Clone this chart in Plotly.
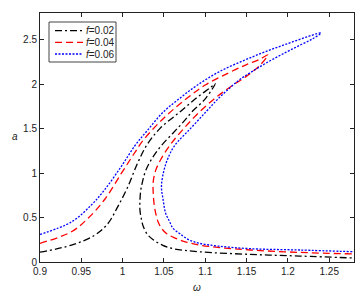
import plotly.graph_objects as go

# f = 0.02 (black, dash-dot)
w_f002 = [0.900, 0.938, 0.966, 0.982, 0.994, 1.006, 1.018, 1.029, 1.045, 1.069, 1.090, 1.106, 1.112,
          1.100, 1.085, 1.073, 1.060, 1.047, 1.036, 1.028, 1.024, 1.022, 1.021, 1.021, 1.023, 1.025,
          1.030, 1.037, 1.048, 1.061, 1.093, 1.154, 1.214, 1.280]
a_f002 = [0.11, 0.19, 0.30, 0.43, 0.62, 0.84, 1.11, 1.31, 1.50, 1.685, 1.85, 1.96, 2.005,
          1.835, 1.70, 1.57, 1.44, 1.31, 1.17, 1.03, 0.90, 0.81, 0.70, 0.58, 0.47, 0.40,
          0.31, 0.25, 0.19, 0.15, 0.115, 0.086, 0.067, 0.045]

# f = 0.04 (red, dashed)
w_f004 = [0.900, 0.938, 0.958, 0.978, 0.998, 1.014, 1.025, 1.050, 1.077, 1.100, 1.129, 1.150, 1.166, 1.176,
          1.166, 1.150, 1.129, 1.109, 1.089, 1.072, 1.057, 1.046, 1.040, 1.037, 1.037, 1.038, 1.040,
          1.043, 1.047, 1.053, 1.061, 1.075, 1.093, 1.120, 1.154, 1.214, 1.280]
a_f004 = [0.21, 0.34, 0.49, 0.70, 0.99, 1.22, 1.37, 1.62, 1.835, 1.99, 2.13, 2.22, 2.28, 2.33,
          2.21, 2.09, 1.96, 1.82, 1.65, 1.48, 1.31, 1.15, 1.03, 0.90, 0.78, 0.66, 0.55,
          0.45, 0.38, 0.32, 0.28, 0.23, 0.19, 0.16, 0.135, 0.108, 0.09]

# f = 0.06 (blue, dotted)
w_f006 = [0.900, 0.938, 0.962, 0.978, 0.998, 1.015, 1.030, 1.049, 1.069, 1.089, 1.117, 1.158, 1.198, 1.240,
          1.230, 1.215, 1.198, 1.178, 1.158, 1.143, 1.130, 1.115, 1.101, 1.082, 1.063, 1.055, 1.050,
          1.047, 1.049, 1.052, 1.056, 1.061, 1.069, 1.080, 1.093, 1.115, 1.154, 1.214, 1.280]
a_f006 = [0.31, 0.45, 0.64, 0.81, 1.07, 1.31, 1.48, 1.685, 1.84, 1.98, 2.14, 2.31, 2.45, 2.575,
          2.51, 2.44, 2.36, 2.26, 2.15, 2.06, 1.96, 1.83, 1.69, 1.50, 1.31, 1.17, 1.03,
          0.85, 0.70, 0.55, 0.47, 0.38, 0.32, 0.25, 0.21, 0.18, 0.15, 0.135, 0.115]

x_ticks = [0.9, 0.95, 1, 1.05, 1.1, 1.15, 1.2, 1.25]
x_labels = ["0.9", "0.95", "1", "1.05", "1.1", "1.15", "1.2", "1.25"]
y_ticks = [0, 0.5, 1, 1.5, 2, 2.5]
y_labels = ["0", "0.5", "1", "1.5", "2", "2.5"]
legend_labels = ["<i>f</i>=0.02", "<i>f</i>=0.04", "<i>f</i>=0.06"]

styles = [("black", "7px,3px,2px,3px"), ("red", "7px,4px"), ("blue", "2px,1.5px")]
data = [(w_f002, a_f002), (w_f004, a_f004), (w_f006, a_f006)]

FONT = "Liberation Sans, Arial, sans-serif"

fig = go.Figure()
for (w, a), (col, dash), name in zip(data, styles, legend_labels):
    fig.add_trace(go.Scatter(
        x=w, y=a, mode="lines", name=name, showlegend=False,
        line=dict(color=col, dash=dash, width=1.3, shape="spline", smoothing=1.0),
    ))

axis_common = dict(
    showline=True, linecolor="#222", linewidth=1, mirror="allticks",
    ticks="inside", ticklen=4, tickcolor="#222", showgrid=False, zeroline=False,
    automargin=False,
    tickfont=dict(family=FONT, size=10, color="#222"),
)

fig.update_layout(
    width=363, height=297,
    margin=dict(l=40, r=9, t=13, b=35),
    paper_bgcolor="white", plot_bgcolor="white",
    font=dict(family=FONT, size=10, color="#222"),
    xaxis=dict(range=[0.9, 1.28], tickvals=x_ticks, ticktext=x_labels, **axis_common),
    yaxis=dict(range=[0, 2.8], tickvals=y_ticks, ticktext=y_labels, **axis_common),
    showlegend=False,
)

def px2paper(px, py):
    return (px - 40) / 314, (262 - py) / 249

# axis titles
tx, ty = px2paper(197, 287)
fig.add_annotation(text="<i>ω</i>", xref="paper", yref="paper", x=tx, y=ty,
                   showarrow=False, font=dict(family=FONT, size=10, color="#222"),
                   xanchor="center", yanchor="middle")
tx, ty = px2paper(15, 136)
fig.add_annotation(text="<i>a</i>", xref="paper", yref="paper", x=tx, y=ty,
                   showarrow=False, font=dict(family=FONT, size=10, color="#222"),
                   xanchor="center", yanchor="middle")

# legend box (drawn manually to match compact layout)
bx0, by0 = px2paper(49, 62)
bx1, by1 = px2paper(116, 22)
fig.add_shape(type="rect", xref="paper", yref="paper", x0=bx0, y0=by0, x1=bx1, y1=by1,
              line=dict(color="#444", width=1), fillcolor="white", layer="above")
row_y = [30.7, 42.3, 54.0]
for (col, dash), label, ry in zip(styles, legend_labels, row_y):
    lx0, ly = px2paper(55, ry)
    lx1, _ = px2paper(83, ry)
    fig.add_shape(type="line", xref="paper", yref="paper", x0=lx0, x1=lx1, y0=ly, y1=ly,
                  line=dict(color=col, dash=dash, width=1.3), layer="above")
    tx, _ = px2paper(84, ry)
    fig.add_annotation(text=label, xref="paper", yref="paper", x=tx, y=ly, showarrow=False,
                       xanchor="left", yanchor="middle",
                       font=dict(family=FONT, size=10, color="#222"))

fig.write_html("out.html",
               config={"displayModeBar": False},
               post_script="document.body.style.margin='0';document.body.style.overflow='hidden';")
